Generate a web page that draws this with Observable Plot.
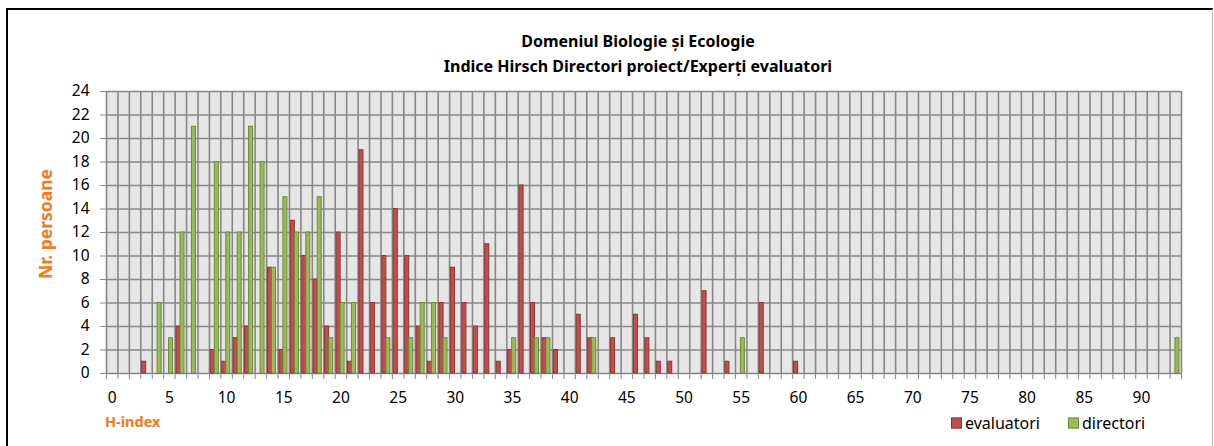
<!DOCTYPE html>
<html>
<head>
<meta charset="utf-8">
<script src="https://cdn.jsdelivr.net/npm/d3@7"></script>
<script src="https://cdn.jsdelivr.net/npm/@observablehq/plot@0.6"></script>
<style>
  html, body { margin: 0; padding: 0; background: #fff; }
  #wrap { position: relative; width: 1214px; height: 446px; overflow: hidden; font-family: "Noto Sans", sans-serif; }
  #wrap svg { position: absolute; left: 0; top: 0; }
  .abs { position: absolute; white-space: nowrap; }
  .title { font-weight: bold; font-size: 16px; color: #000; left: 638px; transform: translate(-50%, -50%); }
  .orange { color: #f07a1c; font-weight: bold; }
  .leg { font-size: 16px; color: #000; transform: translateY(-50%); }
  .sw { position: absolute; width: 11px; height: 11px; box-sizing: border-box; transform: translateY(-50%); }
</style>
</head>
<body>
<div id="wrap">
  <div class="abs" style="left:7px;top:8px;width:1206px;height:2px;background:#000"></div>
  <div class="abs" style="left:6px;top:8px;width:2px;height:440px;background:#000"></div>
  <div class="abs" style="left:1212px;top:9px;width:1px;height:440px;background:#bbb"></div>
  <div class="abs title" style="top:41px">Domeniul Biologie și Ecologie</div>
  <div class="abs title" style="top:66px">Indice Hirsch Directori proiect/Experți evaluatori</div>
  <div class="abs orange" style="left:45px;top:224px;font-size:17.5px;transform:translate(-50%,-50%) rotate(-90deg)">Nr. persoane</div>
  <div class="abs orange" style="left:105px;top:421px;font-size:14.5px;transform:translateY(-50%)">H-index</div>
  <div class="sw" style="left:951px;top:423px;background:#c0504d;border:1px solid #8c3532"></div>
  <div class="abs leg" style="left:965px;top:423px">evaluatori</div>
  <div class="sw" style="left:1068px;top:423px;background:#9bbb59;border:1px solid #6e8a3a"></div>
  <div class="abs leg" style="left:1082px;top:423px">directori</div>
</div>
<script>
// H-index categories and counts
const hEvaluatori = [3, 6, 9, 10, 11, 12, 14, 15, 16, 17, 18, 19, 20, 21, 22, 23, 24, 25, 26, 27, 28, 29, 30, 31, 32, 33, 34, 35, 36, 37, 38, 39, 41, 42, 44, 46, 47, 48, 49, 52, 54, 57, 60];
const nEvaluatori = [1, 4, 2, 1, 3, 4, 9, 2, 13, 10, 8, 4, 12, 1, 19, 6, 10, 14, 10, 4, 1, 6, 9, 6, 4, 11, 1, 2, 16, 6, 3, 2, 5, 3, 3, 5, 3, 1, 1, 7, 1, 6, 1];
const hDirectori = [4, 5, 6, 7, 9, 10, 11, 12, 13, 14, 15, 16, 17, 18, 19, 20, 21, 24, 26, 27, 28, 29, 35, 37, 38, 42, 55, 93];
const nDirectori = [6, 3, 12, 21, 18, 12, 12, 21, 18, 9, 15, 12, 12, 15, 3, 6, 6, 3, 3, 6, 6, 3, 3, 3, 3, 3, 3, 3];
const categories = d3.range(0, 94);
const yTicks = d3.range(0, 25, 2);
const xLabels = d3.range(0, 91, 5);

const evalData = hEvaluatori.map((h, i) => ({h, v: nEvaluatori[i]}));
const dirData = hDirectori.map((h, i) => ({h, v: nDirectori[i]}));

const fontSize = 15.5;
const chart = Plot.plot({
  width: 1214,
  height: 446,
  marginLeft: 106,
  marginRight: 33,
  marginTop: 91,
  marginBottom: 73,
  style: {fontFamily: "Noto Sans, sans-serif", fontSize: fontSize + "px", color: "#000", background: "transparent"},
  x: {type: "linear", domain: [0, categories.length], nice: false},
  y: {domain: [0, 24], nice: false},
  marks: [
    Plot.frame({fill: "#e6e6e6", stroke: null}),
    Plot.ruleY(yTicks, {stroke: "#888", strokeWidth: 1.6}),
    Plot.ruleX(d3.range(0, categories.length + 1), {stroke: "#888", strokeWidth: 1.6}),
    Plot.rectY(evalData, {x1: d => d.h + 0.12, x2: d => d.h + 0.47, y: "v", fill: "#c0504d", stroke: "#8c3532", strokeWidth: 1}),
    Plot.rectY(dirData, {x1: d => d.h + 0.47, x2: d => d.h + 0.82, y: "v", fill: "#9bbb59", stroke: "#6e8a3a", strokeWidth: 1}),
    Plot.axisY({ticks: yTicks, tickSize: 6, tickPadding: 11, stroke: "#888", fontSize: fontSize, label: null}),
    Plot.axisX({ticks: d3.range(0, categories.length + 1), tickSize: 6, stroke: "#888", tickFormat: () => "", label: null}),
    Plot.axisX({ticks: xLabels.map(d => d + 0.5), tickFormat: d => String(Math.round(d - 0.5)), tickSize: 0, tickPadding: 18, fontSize: fontSize, label: null})
  ]
});
document.getElementById("wrap").prepend(chart);
</script>
</body>
</html>
